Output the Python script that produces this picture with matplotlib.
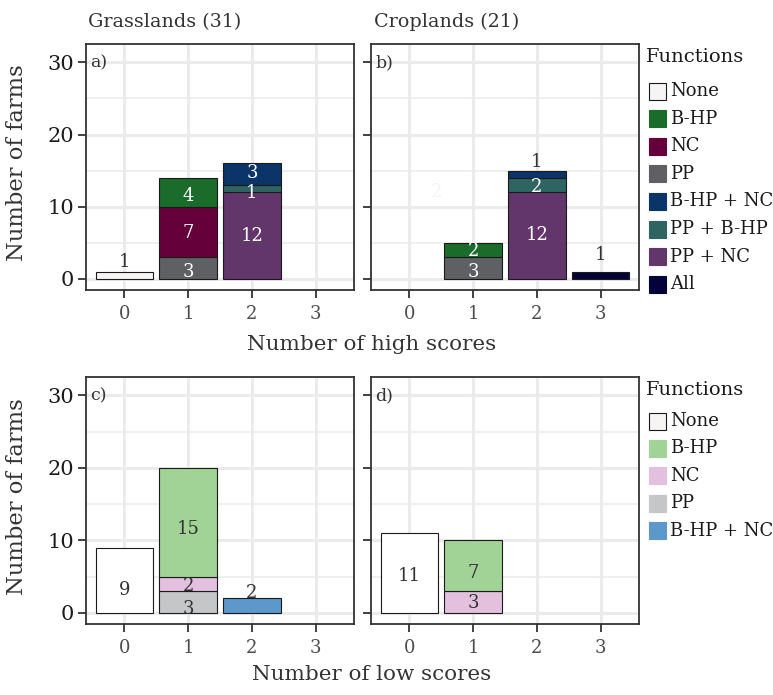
import matplotlib.pyplot as plt
from matplotlib.patches import Rectangle

plt.rcParams['font.family'] = ['DejaVu Serif']

# categories shown in each legend (stacking order: later levels at the bottom)
high_levels = ["None", "B-HP", "NC", "PP", "B-HP + NC", "PP + B-HP", "PP + NC", "All"]
high_colors = ["#f7f4f4", "#1b6b2b", "#66003a", "#5f6064", "#0b3468", "#2e6462", "#63366b", "#03033a"]
low_levels = ["None", "B-HP", "NC", "PP", "B-HP + NC"]
low_colors = ["#ffffff", "#a0d395", "#e3c1de", "#c5c6c8", "#5c98cc"]

x_scores = [0, 1, 2, 3]

# farm counts per number of scores, one list per function group
grass_high = {
    "None":      [1, 0, 0, 0],
    "B-HP":      [0, 4, 0, 0],
    "NC":        [0, 7, 0, 0],
    "PP":        [0, 3, 0, 0],
    "B-HP + NC": [0, 0, 3, 0],
    "PP + B-HP": [0, 0, 1, 0],
    "PP + NC":   [0, 0, 12, 0],
    "All":       [0, 0, 0, 0],
}
crop_high = {
    "None":      [0, 0, 0, 0],
    "B-HP":      [0, 2, 0, 0],
    "NC":        [0, 0, 0, 0],
    "PP":        [0, 3, 0, 0],
    "B-HP + NC": [0, 0, 1, 0],
    "PP + B-HP": [0, 0, 2, 0],
    "PP + NC":   [0, 0, 12, 0],
    "All":       [0, 0, 0, 1],
}
grass_low = {
    "None":      [9, 0, 0, 0],
    "B-HP":      [0, 15, 0, 0],
    "NC":        [0, 2, 0, 0],
    "PP":        [0, 3, 0, 0],
    "B-HP + NC": [0, 0, 2, 0],
}
crop_low = {
    "None":      [11, 0, 0, 0],
    "B-HP":      [0, 7, 0, 0],
    "NC":        [0, 3, 0, 0],
    "PP":        [0, 0, 0, 0],
    "B-HP + NC": [0, 0, 0, 0],
}

# label heights for the count text (group, x, y, white text?)
labels_a = [("None", 0, 2.4, False), ("PP", 1, 1.0, True), ("NC", 1, 6.3, True),
            ("B-HP", 1, 11.5, True), ("PP + NC", 2, 6.0, True),
            ("PP + B-HP", 2, 11.85, True), ("B-HP + NC", 2, 14.6, True)]
labels_b = [("PP", 1, 1.0, True), ("B-HP", 1, 3.8, True), ("PP + NC", 2, 6.1, True),
            ("PP + B-HP", 2, 12.7, True), ("B-HP + NC", 2, 16.2, False),
            ("All", 3, 3.3, False)]
labels_c = [("None", 0, 3.2, False), ("PP", 1, 0.55, False), ("NC", 1, 3.75, False),
            ("B-HP", 1, 11.6, False), ("B-HP + NC", 2, 2.75, False)]
labels_d = [("None", 0, 5.1, False), ("NC", 1, 1.4, False), ("B-HP", 1, 5.5, False)]

W, H = 773, 695
fig = plt.figure(figsize=(W / 100, H / 100), dpi=100)


def px_axes(left, top, right, bottom):
    return fig.add_axes([left / W, 1 - bottom / H, (right - left) / W, (bottom - top) / H])


def draw_panel(ax, counts, levels, colors, labels, tag, show_y):
    ax.set_axisbelow(True)
    for y in [5, 15, 25]:
        ax.axhline(y, color="#ebebeb", lw=1.1, zorder=0)
    for y in [0, 10, 20, 30]:
        ax.axhline(y, color="#ebebeb", lw=2.2, zorder=0)
    for x in x_scores:
        ax.axvline(x, color="#ebebeb", lw=2.2, zorder=0)

    color_of = dict(zip(levels, colors))
    bottoms = [0] * len(x_scores)
    for name in reversed(levels):
        vals = counts[name]
        for i, v in enumerate(vals):
            if v > 0:
                ax.bar(x_scores[i], v, width=0.9, bottom=bottoms[i],
                       color=color_of[name], edgecolor="#1a1a1a", lw=0.8, zorder=2)
        bottoms = [b + v for b, v in zip(bottoms, vals)]

    for name, xi, ly, white in labels:
        ax.text(xi, ly, str(counts[name][xi]), ha="center", va="center",
                fontsize=13, color="white" if white else "#333333", zorder=3)

    ax.text(-0.53, 30, tag, ha="left", va="center", fontsize=12.5, color="#333333")

    ax.set_xlim(-0.6, 3.6)
    ax.set_ylim(-1.55, 32.55)
    ax.set_xticks(x_scores)
    ax.set_yticks([0, 10, 20, 30])
    ax.tick_params(axis="x", labelsize=13, labelcolor="#4d4d4d", length=5.5,
                   width=1.3, color="#333333", pad=5)
    ax.tick_params(axis="y", labelsize=15, labelcolor="#1a1a1a", length=5.5,
                   width=1.3, color="#333333", pad=3, labelleft=show_y)
    for s in ax.spines.values():
        s.set_color("#333333")
        s.set_linewidth(1.3)


ax_a = px_axes(86, 44, 354, 290)
ax_b = px_axes(371, 44, 639, 290)
ax_c = px_axes(86, 377, 354, 624)
ax_d = px_axes(371, 377, 639, 624)

draw_panel(ax_a, grass_high, high_levels, high_colors, labels_a, "a)", True)
draw_panel(ax_b, crop_high, high_levels, high_colors, labels_b, "b)", False)
draw_panel(ax_c, grass_low, low_levels, low_colors, labels_c, "c)", True)
draw_panel(ax_d, crop_low, low_levels, low_colors, labels_d, "d)", False)

# stray label left in panel b
ax_b.text(0.43, 12, "2", ha="center", va="center", fontsize=13, color="#f4f4f4", zorder=1)

# strip titles
fig.text(88 / W, 1 - 22 / H, "Grasslands (31)", ha="left", va="center", fontsize=13.8, color="#333333")
fig.text(374 / W, 1 - 22 / H, "Croplands (21)", ha="left", va="center", fontsize=13.8, color="#333333")

# axis titles
fig.text(372 / W, 1 - 345 / H, "Number of high scores", ha="center", va="center", fontsize=15.4, color="#333333")
fig.text(372 / W, 1 - 675 / H, "Number of low scores", ha="center", va="center", fontsize=15.4, color="#333333")
fig.text(17 / W, 1 - 163 / H, "Number of farms", ha="center", va="center", rotation=90, fontsize=16.3, color="#333333")
fig.text(17 / W, 1 - 497 / H, "Number of farms", ha="center", va="center", rotation=90, fontsize=16.3, color="#333333")


def draw_legend(levels, colors, title_y, first_y, step):
    fig.text(646 / W, 1 - title_y / H, "Functions", ha="left", va="center", fontsize=14, color="#1a1a1a")
    for i, (name, col) in enumerate(zip(levels, colors)):
        cy = first_y + i * step
        edge = "#1a1a1a" if name == "None" else col
        fig.patches.append(Rectangle((649 / W, 1 - (cy + 8.5) / H), 17 / W, 17 / H,
                                     transform=fig.transFigure, facecolor=col,
                                     edgecolor=edge, lw=0.8))
        fig.text(670 / W, 1 - cy / H, name, ha="left", va="center", fontsize=13, color="#1a1a1a")


draw_legend(high_levels, ["#f7f4f4"] + high_colors[1:], 57, 91, 27.6)
draw_legend(low_levels, ["#f7f4f4"] + low_colors[1:], 390, 421, 27.4)

fig.savefig("out.png", dpi=100)
